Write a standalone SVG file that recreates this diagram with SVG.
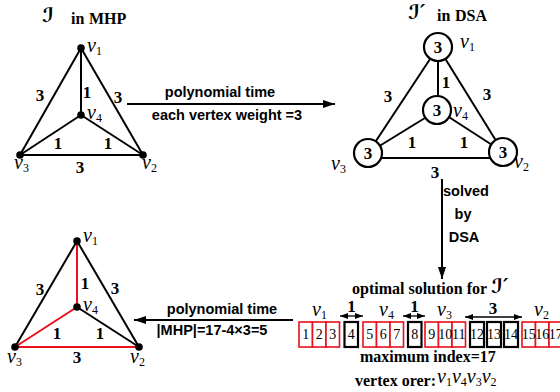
<svg xmlns="http://www.w3.org/2000/svg" width="560" height="392" viewBox="0 0 560 392">
<style>
.e{stroke:#000;stroke-width:2;fill:none}
.r{stroke:#e8101a;stroke-width:2;fill:none}
.dot{fill:#000}
.num{font-family:"Liberation Serif",serif;font-weight:bold;font-size:17px;text-anchor:middle}
.v{font-family:"Liberation Serif",serif;font-style:italic;font-size:20px}
.sub{font-size:12px;font-style:normal}
.ttl{font-family:"Liberation Serif",serif;font-weight:bold;font-size:16px}
.sc{font-family:"DejaVu Serif","DejaVu Sans",serif;font-style:italic;font-weight:bold;font-size:20px}
.sans{font-family:"Liberation Sans",Arial,sans-serif;font-weight:bold;font-size:14.5px}
.circ{fill:#fff;stroke:#000;stroke-width:2.2}
.rb{fill:#fff;stroke:#e8101a;stroke-width:1.6}
.bb{fill:#fff;stroke:#000;stroke-width:2.2}
.bn{font-family:"Liberation Serif",serif;font-size:14px;text-anchor:middle}
</style>
<defs>
<marker id="ah" viewBox="0 0 12 8" refX="12" refY="4" markerWidth="12" markerHeight="8" markerUnits="userSpaceOnUse" orient="auto">
<path d="M0,0 L12,4 L0,8 z" fill="#000"/>
</marker>
<marker id="sh" viewBox="0 0 8 6" refX="8" refY="3" markerWidth="8" markerHeight="6" markerUnits="userSpaceOnUse" orient="auto-start-reverse">
<path d="M0,0 L8,3 L0,6 z" fill="#000"/>
</marker>
</defs>

<!-- Top-left graph: I in MHP -->
<g id="title-mhp">
<text class="sc" x="42" y="22">ℐ</text>
<text class="ttl" x="71" y="24">in</text>
<text class="ttl" x="89" y="24">MHP</text>
</g>
<g id="connectors-mhp">
<line class="e" x1="81" y1="48" x2="81" y2="115"/>
<line class="e" x1="81" y1="48" x2="20" y2="155"/>
<line class="e" x1="81" y1="48" x2="143" y2="155"/>
<line class="e" x1="81" y1="115" x2="20" y2="155"/>
<line class="e" x1="81" y1="115" x2="143" y2="155"/>
<line class="e" x1="20" y1="155" x2="143" y2="155"/>
<g class="num">
<text x="40" y="101">3</text>
<text x="87" y="98">1</text>
<text x="118" y="103">3</text>
<text x="58" y="149">1</text>
<text x="108" y="149">1</text>
<text x="80" y="173">3</text>
</g>
</g>
<g id="mhp-v1"><circle class="dot" cx="81" cy="48" r="3.8"/><text class="v" x="87" y="52">v<tspan class="sub" dy="3">1</tspan></text></g>
<g id="mhp-v4"><circle class="dot" cx="81" cy="115" r="3.8"/><text class="v" x="87" y="119">v<tspan class="sub" dy="3">4</tspan></text></g>
<g id="mhp-v3"><circle class="dot" cx="20" cy="155" r="3.8"/><text class="v" x="14" y="169">v<tspan class="sub" dy="3">3</tspan></text></g>
<g id="mhp-v2"><circle class="dot" cx="143" cy="155" r="3.8"/><text class="v" x="142" y="169">v<tspan class="sub" dy="3">2</tspan></text></g>

<!-- Top arrow -->
<g id="arrow-top">
<line class="e" x1="127" y1="104" x2="335" y2="104" marker-end="url(#ah)"/>
<text class="sans" x="220" y="97" text-anchor="middle">polynomial time</text>
<text class="sans" x="227" y="120" text-anchor="middle">each vertex weight =3</text>
</g>

<!-- Top-right graph: I' in DSA -->
<g id="title-dsa">
<text class="sc" x="408" y="19">ℐ′</text>
<text class="ttl" x="437" y="21">in</text>
<text class="ttl" x="455" y="21">DSA</text>
</g>
<g id="connectors-dsa">
<line class="e" x1="438" y1="47" x2="438" y2="110"/>
<line class="e" x1="438" y1="47" x2="368" y2="153"/>
<line class="e" x1="438" y1="47" x2="503" y2="152"/>
<line class="e" x1="438" y1="110" x2="368" y2="153"/>
<line class="e" x1="438" y1="110" x2="503" y2="152"/>
<line class="e" x1="368" y1="158" x2="503" y2="158"/>
<g class="num">
<text x="388" y="102">3</text>
<text x="446" y="88">1</text>
<text x="487" y="100">3</text>
<text x="412" y="148">1</text>
<text x="464" y="148">1</text>
<text x="435" y="178">3</text>
</g>
</g>
<g id="dsa-v1"><circle class="circ" cx="438" cy="47" r="14"/><text class="num" x="438" y="53">3</text><text class="v" x="460" y="48">v<tspan class="sub" dy="3">1</tspan></text></g>
<g id="dsa-v4"><circle class="circ" cx="437" cy="110" r="14"/><text class="num" x="437" y="116">3</text><text class="v" x="453" y="117">v<tspan class="sub" dy="3">4</tspan></text></g>
<g id="dsa-v3"><circle class="circ" cx="368" cy="153" r="14"/><text class="num" x="368" y="159">3</text><text class="v" x="331" y="170">v<tspan class="sub" dy="3">3</tspan></text></g>
<g id="dsa-v2"><circle class="circ" cx="503" cy="152" r="14"/><text class="num" x="503" y="158">3</text><text class="v" x="514" y="168">v<tspan class="sub" dy="3">2</tspan></text></g>

<!-- Down arrow -->
<g id="arrow-down">
<line class="e" x1="442" y1="179" x2="442" y2="279" marker-end="url(#ah)"/>
<g class="sans" font-size="13.5px" text-anchor="middle">
<text x="466" y="196">solved</text>
<text x="463" y="219">by</text>
<text x="464" y="242">DSA</text>
</g>
</g>

<!-- Bottom strip: optimal solution -->
<g id="strip">
<text class="ttl" x="352" y="294" font-size="15.5px">optimal  solution for</text>
<text class="sc" x="491" y="293">ℐ′</text>
<g id="boxes">
<rect class="rb" x="299" y="322" width="13.5" height="25"/>
<rect class="rb" x="312.5" y="322" width="13.5" height="25"/>
<rect class="rb" x="326" y="322" width="13.5" height="25"/>
<rect class="bb" x="344.5" y="322" width="13.5" height="25"/>
<rect class="rb" x="363" y="322" width="13.5" height="25"/>
<rect class="rb" x="376.5" y="322" width="13.5" height="25"/>
<rect class="rb" x="390" y="322" width="13.5" height="25"/>
<rect class="bb" x="408" y="322" width="13.5" height="25"/>
<rect class="rb" x="425" y="322" width="13.5" height="25"/>
<rect class="rb" x="438.5" y="322" width="13.5" height="25"/>
<rect class="rb" x="452" y="322" width="13.5" height="25"/>
<rect class="bb" x="470" y="322" width="14" height="25"/>
<rect class="bb" x="487" y="322" width="14" height="25"/>
<rect class="bb" x="504" y="322" width="14" height="25"/>
<rect class="rb" x="522" y="322" width="13.5" height="25"/>
<rect class="rb" x="535.5" y="322" width="13.5" height="25"/>
<rect class="rb" x="549" y="322" width="13.5" height="25"/>
</g>
<g class="bn">
<text x="305.8" y="339">1</text>
<text x="319.2" y="339">2</text>
<text x="332.8" y="339">3</text>
<text x="351.2" y="339">4</text>
<text x="369.8" y="339">5</text>
<text x="383.2" y="339">6</text>
<text x="396.8" y="339">7</text>
<text x="414.8" y="339">8</text>
<text x="431.8" y="339">9</text>
<text x="445.2" y="339">10</text>
<text x="458.8" y="339">11</text>
<text x="477" y="339">12</text>
<text x="494" y="339">13</text>
<text x="511" y="339">14</text>
<text x="528.8" y="339">15</text>
<text x="542.2" y="339">16</text>
<text x="555.8" y="339">17</text>
</g>
<text class="v" x="312" y="316">v<tspan class="sub" dy="3">1</tspan></text>
<text class="v" x="379" y="316">v<tspan class="sub" dy="3">4</tspan></text>
<text class="v" x="437" y="316">v<tspan class="sub" dy="3">3</tspan></text>
<text class="v" x="534" y="316">v<tspan class="sub" dy="3">2</tspan></text>
<text class="num" x="351.5" y="312" font-size="16px">1</text>
<text class="num" x="414.5" y="312" font-size="16px">1</text>
<text class="num" x="493" y="314">3</text>
<line x1="340" y1="316" x2="363" y2="316" stroke="#000" stroke-width="1.3" marker-start="url(#sh)" marker-end="url(#sh)"/>
<line x1="403" y1="316" x2="425" y2="316" stroke="#000" stroke-width="1.3" marker-start="url(#sh)" marker-end="url(#sh)"/>
<line x1="465" y1="317" x2="522" y2="317" stroke="#000" stroke-width="1.3" marker-start="url(#sh)" marker-end="url(#sh)"/>
<text class="ttl" x="360" y="362" font-size="15.5px">maximum index=17</text>
<text class="ttl" x="355" y="386" font-size="15px">vertex orer:</text>
<text class="v" x="437" y="383" font-size="16px">v<tspan class="sub" font-size="11px" dy="3">1</tspan><tspan dy="-3">v</tspan><tspan class="sub" font-size="11px" dy="3">4</tspan><tspan dy="-3">v</tspan><tspan class="sub" font-size="11px" dy="3">3</tspan><tspan dy="-3">v</tspan><tspan class="sub" font-size="11px" dy="3">2</tspan></text>
</g>

<!-- Bottom arrow -->
<g id="arrow-bottom">
<line class="e" x1="293" y1="320" x2="134" y2="320" marker-end="url(#ah)"/>
<text class="sans" x="222" y="314" text-anchor="middle">polynomial time</text>
<text class="sans" x="212" y="335" text-anchor="middle">|MHP|=17-4×3=5</text>
</g>

<!-- Bottom-left graph: MHP solution -->
<g id="connectors-sol">
<line class="e" x1="77" y1="241" x2="15" y2="347"/>
<line class="e" x1="77" y1="241" x2="139" y2="347"/>
<line class="e" x1="77" y1="307" x2="139" y2="347"/>
<line class="r" x1="77" y1="241" x2="77" y2="307"/>
<line class="r" x1="77" y1="307" x2="15" y2="347"/>
<line class="r" x1="15" y1="347" x2="139" y2="347"/>
<g class="num">
<text x="40" y="295">3</text>
<text x="85" y="289">1</text>
<text x="115" y="294">3</text>
<text x="57" y="339">1</text>
<text x="100" y="339">1</text>
<text x="77" y="363">3</text>
</g>
</g>
<g id="sol-v1"><circle class="dot" cx="77" cy="241" r="3.8"/><text class="v" x="83" y="242">v<tspan class="sub" dy="3">1</tspan></text></g>
<g id="sol-v4"><circle class="dot" cx="77" cy="307" r="3.8"/><text class="v" x="83" y="311">v<tspan class="sub" dy="3">4</tspan></text></g>
<g id="sol-v3"><circle class="dot" cx="15" cy="347" r="3.8"/><text class="v" x="7" y="363">v<tspan class="sub" dy="3">3</tspan></text></g>
<g id="sol-v2"><circle class="dot" cx="139" cy="347" r="3.8"/><text class="v" x="130" y="363">v<tspan class="sub" dy="3">2</tspan></text></g>
</svg>
